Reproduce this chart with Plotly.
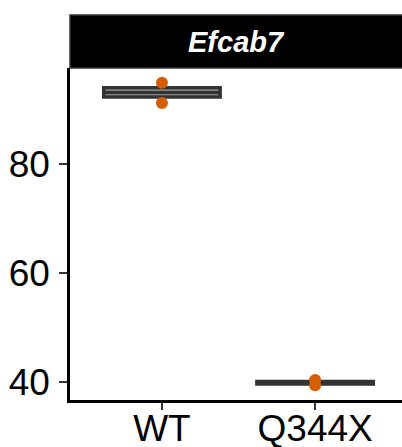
import plotly.graph_objects as go

# ---- data ----
groups = ["WT", "Q344X"]
wt_points = [94.9, 91.2]
mut_points = [40.35, 39.4]
box_q1 = [92.3, 39.64]
box_median = [93.1, 39.88]
box_q3 = [94.0, 40.11]
box_low = [91.2, 39.4]
box_high = [94.9, 40.35]
y_ticks = [40, 60, 80]
panel_title = "Efcab7"

point_color = "#D55E00"
font_family = "Liberation Sans, Arial, sans-serif"

fig = go.Figure()
fig.add_trace(go.Box(
    x=groups, q1=box_q1, median=box_median, q3=box_q3,
    lowerfence=box_low, upperfence=box_high,
    boxpoints=False, width=0.76, whiskerwidth=0,
    line=dict(color="#333333", width=3.5),
    fillcolor="#a0a0a0", showlegend=False, hoverinfo="skip",
))
for g, pts in zip(groups, [wt_points, mut_points]):
    fig.add_trace(go.Scatter(
        x=[g] * len(pts), y=pts, mode="markers",
        marker=dict(color=point_color, size=12, line=dict(width=0)),
        showlegend=False, hoverinfo="skip",
    ))

# facet strip
strip_h = 53 / 332
fig.add_shape(type="rect", xref="paper", yref="paper",
              x0=0, x1=1.01, y0=1.0, y1=1.0 + strip_h,
              fillcolor="black", line=dict(color="#333333", width=1.5),
              layer="above")
fig.add_annotation(text="<b><i>" + panel_title + "</i></b>", xref="paper", yref="paper",
                   x=0.5, y=1.0 + strip_h / 2, showarrow=False,
                   font=dict(family=font_family, size=29, color="white"),
                   xanchor="center", yanchor="middle")

fig.update_layout(
    width=402, height=447,
    margin=dict(l=70, r=0, t=68, b=47),
    plot_bgcolor="white", paper_bgcolor="white",
    font=dict(family=font_family, color="black"),
)
fig.update_xaxes(
    type="category", categoryorder="array", categoryarray=groups,
    range=[-0.6, 1.567], automargin=False,
    showline=True, linecolor="black", linewidth=2.5,
    ticks="outside", ticklen=7, tickwidth=2, tickcolor="#333333",
    tickfont=dict(size=37, color="black", family=font_family),
    ticklabelstandoff=-13,
    showgrid=False, zeroline=False,
)
fig.update_yaxes(
    range=[36.7, 97.6], tickvals=y_ticks, automargin=False,
    showline=True, linecolor="black", linewidth=2.5,
    ticks="outside", ticklen=8, tickwidth=2, tickcolor="#333333",
    tickfont=dict(size=37, color="black", family=font_family),
    ticklabelstandoff=2,
    showgrid=False, zeroline=False,
)

# remove the browser's default page margin so the figure fills the window exactly
fig.write_html(
    "out.html",
    config={"displayModeBar": False},
    post_script="document.body.style.margin='0';document.body.style.overflow='hidden';",
)
